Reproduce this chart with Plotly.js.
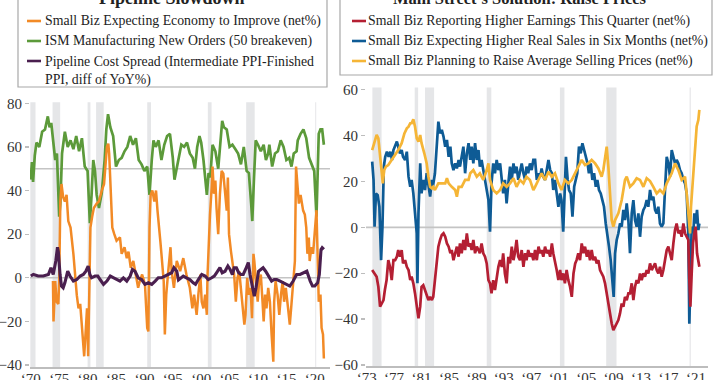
<!DOCTYPE html>
<html><head><meta charset="utf-8">
<script src="https://cdn.plot.ly/plotly-3.0.1.min.js"></script>
<style>html,body{margin:0;padding:0;background:#fff}#chart{width:720px;height:380px}</style>
</head><body><div id="chart"></div>
<script>
// ---------- text ----------
const leftTitle = "Pipeline Slowdown";
const rightTitle = "Main Street\u2019s Solution: Raise Prices";
const leftNames = ["Small Biz Expecting Economy to Improve (net%)",
                   "ISM Manufacturing New Orders (50 breakeven)",
                   "Pipeline Cost Spread (Intermediate PPI-Finished<br>PPI, diff of YoY%)"];
const rightNames = ["Small Biz Reporting Higher Earnings This Quarter (net%)",
                    "Small Biz Expecting Higher Real Sales in Six Months (net%)",
                    "Small Biz Planning to Raise Average Selling Prices (net%)"];
const leftTickYears = [1970,1975,1980,1985,1990,1995,2000,2005,2010,2015,2020];
const leftTickText = ["\u201870","\u201875","\u201880","\u201885","\u201890","\u201895","\u201800","\u201805","\u201810","\u201815","\u201820"];
const rightTickYears = [1973,1977,1981,1985,1989,1993,1997,2001,2005,2009,2013,2017,2021];
const rightTickText = ["\u201873","\u201877","\u201881","\u201885","\u201889","\u201893","\u201897","\u201801","\u201805","\u201809","\u201813","\u201817","\u201821"];
const leftYTicks = [-40,-20,0,20,40,60,80];
const rightYTicks = [-60,-40,-20,0,20,40,60];
const leftRefLines = [0,50];
const rightRefLines = [0];
// recessions (decimal years)
const recessions = [[1969.92,1970.83],[1973.83,1975.17],[1980.0,1980.5],[1981.5,1982.83],
                    [1990.5,1991.17],[2001.17,2001.83],[2007.92,2009.42],[2020.08,2020.25]];

// ---------- data: [decimal year, value] ----------
const ismNewOrders = [[1970.0,45],[1970.2,53],[1970.4,44],[1970.7,56],[1971.0,62],[1971.5,60],[1972.0,67],[1972.5,68],[1973.0,74],[1973.3,69],[1973.6,71],[1974.0,61],[1974.3,54],[1974.6,57],[1975.0,28],[1975.2,34],[1975.5,57],[1976.0,67],[1976.2,64],[1976.5,60],[1977.0,63],[1977.5,59],[1978.0,65],[1978.5,58],[1979.0,64],[1979.5,51],[1980.0,49],[1980.4,25],[1980.7,38],[1981.0,54],[1981.3,49],[1981.6,38],[1982.0,32],[1982.5,39],[1983.0,54],[1983.3,68],[1983.6,75],[1984.0,69],[1984.5,65],[1985.0,51],[1985.5,54],[1986.0,55],[1986.5,58],[1987.0,60],[1987.5,65],[1988.0,61],[1988.5,64],[1989.0,54],[1989.5,52],[1990.0,49],[1990.5,51],[1990.9,38],[1991.3,54],[1991.6,63],[1992.0,60],[1992.5,63],[1993.0,54],[1993.5,61],[1994.0,65],[1994.5,66],[1995.0,55],[1995.3,45],[1995.6,49],[1996.0,54],[1996.5,61],[1997.0,60],[1997.5,62],[1998.0,57],[1998.5,55],[1998.9,50],[1999.3,60],[1999.7,65],[2000.0,62],[2000.4,54],[2000.8,43],[2001.0,38],[2001.3,48],[2001.6,46],[2002.0,61],[2002.5,58],[2003.0,50],[2003.3,61],[2003.7,72],[2004.0,69],[2004.5,68],[2005.0,60],[2005.5,61],[2006.0,59],[2006.5,57],[2007.0,52],[2007.5,60],[2008.0,49],[2008.4,48],[2008.8,34],[2009.0,26],[2009.3,46],[2009.6,63],[2010.0,61],[2010.5,58],[2011.0,61],[2011.4,54],[2011.8,57],[2012.0,61],[2012.5,51],[2013.0,57],[2013.5,58],[2014.0,63],[2014.5,60],[2015.0,54],[2015.5,55],[2015.9,51],[2016.3,57],[2016.8,58],[2017.0,63],[2017.5,66],[2018.0,68],[2018.5,64],[2019.0,55],[2019.5,52],[2019.9,49],[2020.3,28],[2020.5,49],[2020.7,66],[2021.0,68],[2021.3,68],[2021.6,61]];

const econImprove = [[1973.9,-1.5],[1974.0,-20],[1974.3,-1.5],[1974.55,-11],[1974.85,-12],[1975.0,-1.5],[1975.2,35],[1975.4,43],[1975.7,37],[1976.0,35],[1976.3,38],[1976.6,26],[1977.0,23],[1977.5,11],[1978.1,-8],[1978.4,-14],[1978.7,-12],[1979.0,-23],[1979.25,-35],[1979.4,-36],[1979.7,-23],[1979.9,-14],[1980.1,-36],[1980.3,-1.5],[1980.5,23],[1980.8,28],[1981.1,32],[1981.6,34],[1982.0,35],[1982.5,40],[1982.9,43],[1983.4,60],[1983.65,61.5],[1983.8,57],[1984.1,38],[1984.35,23],[1984.7,20],[1985.1,17],[1985.7,18.5],[1986.0,11],[1986.5,14],[1986.9,9],[1987.2,12],[1987.6,4.6],[1988.05,7.7],[1988.5,0],[1988.9,-4.6],[1989.2,-1.5],[1989.6,1.5],[1990.1,-3],[1990.5,-23],[1990.7,-24.6],[1990.9,23],[1991.1,38],[1991.4,40],[1991.75,35],[1992.05,40],[1992.3,31],[1992.6,20],[1992.8,17],[1993.0,11],[1993.4,-1.5],[1993.6,-26],[1993.85,-7.7],[1994.2,3],[1994.6,14],[1994.8,3],[1995.2,-4.6],[1995.7,7.7],[1996.3,3],[1996.85,9],[1997.4,1.5],[1998.0,-4.6],[1998.45,-14],[1998.75,-7.7],[1999.2,-17],[1999.5,-7.7],[1999.85,1.5],[2000.1,-11],[2000.4,-14],[2000.7,-7.7],[2001.0,-17],[2001.1,0],[2001.3,14],[2001.55,29],[2001.85,41.5],[2002.0,51],[2002.25,38.5],[2002.5,44.6],[2002.7,32],[2003.0,20],[2003.3,38.5],[2003.6,49],[2003.9,47.7],[2004.2,37],[2004.5,30.8],[2004.7,46],[2004.9,20],[2005.25,12],[2005.5,7.7],[2005.8,1.5],[2006.1,-11],[2006.4,0],[2006.7,3],[2007.0,-4.6],[2007.3,-12],[2007.6,-21.5],[2007.8,-17],[2008.1,0],[2008.4,-7.7],[2008.7,-4.6],[2008.95,-18.5],[2009.2,11],[2009.35,7.7],[2009.65,-1.5],[2009.95,-11],[2010.2,-1.5],[2010.5,1.5],[2010.8,-11],[2011.0,-20],[2011.25,-7.7],[2011.5,-14],[2011.8,-4.6],[2012.1,-11],[2012.4,-26],[2012.7,-38.5],[2012.85,-11],[2013.1,-1.5],[2013.45,-7.7],[2013.75,-17],[2014.05,-7.7],[2014.35,-1.5],[2014.6,-11],[2014.9,-4.6],[2015.3,-14],[2015.6,-21.5],[2015.9,-12],[2016.2,-1.5],[2016.5,7.7],[2016.7,51],[2016.9,44.6],[2017.2,34],[2017.5,38],[2017.8,32],[2017.95,30.8],[2018.25,29],[2018.5,23],[2018.7,11],[2018.95,18.5],[2019.1,7.7],[2019.4,14],[2019.7,11],[2020.0,20],[2020.3,31],[2020.5,10],[2020.7,-11],[2021.0,-7.7],[2021.2,-23],[2021.45,-26],[2021.6,-37]];

const pipelineSpread = [[1970.0,0.8],[1970.45,1.5],[1971.3,0.8],[1972.2,0.8],[1973.1,1.5],[1973.55,4.6],[1973.95,1.5],[1974.4,7.7],[1974.7,14],[1974.85,12],[1975.15,1.5],[1975.4,-3.8],[1975.7,-4.6],[1976.0,-2.3],[1976.5,3],[1976.9,0.8],[1977.5,-1.5],[1978.1,-0.8],[1978.7,0.8],[1979.25,1.5],[1979.7,3],[1980.1,5.4],[1980.4,1.5],[1980.7,0],[1981.3,0.8],[1981.8,0.8],[1982.2,-0.8],[1982.8,-3],[1983.4,-1.5],[1984.0,0.8],[1984.6,0],[1985.1,-0.8],[1985.7,-1.5],[1986.3,0],[1986.9,-1.5],[1987.5,0.8],[1987.9,3.8],[1988.35,3],[1988.9,0],[1989.5,-0.8],[1990.1,-3],[1990.7,-2.3],[1991.3,-3],[1991.9,-1.5],[1992.45,0],[1993.0,0],[1993.6,0.8],[1994.2,1.5],[1994.8,2.3],[1995.2,4.6],[1995.7,3],[1996.0,-1],[1996.85,0.8],[1997.4,0],[1998.0,-0.8],[1998.6,-2.3],[1999.0,-3],[1999.5,-0.8],[2000.1,1.5],[2000.7,0.8],[2001.25,-0.8],[2001.85,0],[2002.3,0.8],[2002.7,2.3],[2003.3,4.6],[2003.7,2.3],[2004.2,3],[2004.7,5.4],[2005.1,3.8],[2005.5,1.5],[2005.8,4.6],[2006.2,4.6],[2006.6,2.3],[2007.0,1.5],[2007.4,1.5],[2007.8,3.8],[2008.3,7],[2008.6,1.5],[2009.0,-4.6],[2009.35,-8.5],[2009.65,-4.6],[2010.1,3],[2010.5,3.8],[2010.9,4.6],[2011.35,3],[2011.8,0.8],[2012.4,-1.5],[2012.85,-0.8],[2013.3,-0.8],[2013.9,-1.5],[2014.5,-2.3],[2015.0,-3],[2015.6,-3.8],[2016.2,-1.5],[2016.8,1.5],[2017.4,1.5],[2018.0,2.3],[2018.6,3],[2019.2,-1.5],[2019.6,-3.8],[2020.0,-3.8],[2020.5,-2.3],[2020.8,1.5],[2021.1,13],[2021.3,13.8],[2021.6,13]];

const higherEarnings = [[1973.8,-18.6],[1974.2,-20.1],[1974.45,-21.5],[1974.7,-25.9],[1974.95,-34.6],[1975.2,-33.2],[1975.45,-31.7],[1975.65,-27.3],[1975.9,-23],[1976.15,-14.3],[1976.4,-17.2],[1976.65,-23],[1976.9,-14.3],[1977.15,-14.3],[1977.4,-12.8],[1977.6,-9.9],[1977.85,-12.8],[1978.1,-9.9],[1978.3,-15.7],[1978.6,-14.3],[1978.85,-17.2],[1979.1,-18.6],[1979.35,-23],[1979.55,-21.5],[1979.8,-24.4],[1980.05,-28.8],[1980.3,-34.6],[1980.55,-39.7],[1980.8,-34.6],[1981.0,-25.9],[1981.25,-25.2],[1981.5,-27.3],[1981.75,-30.3],[1982.0,-31.7],[1982.25,-30.3],[1982.5,-31.7],[1982.7,-30.3],[1982.95,-23],[1983.2,-14.3],[1983.45,-8.4],[1983.7,-5.5],[1983.95,-3.3],[1984.2,-2.6],[1984.45,-4.1],[1984.7,-7],[1984.95,-8.4],[1985.2,-11.3],[1985.4,-9.9],[1985.65,-14.3],[1985.9,-11.3],[1986.15,-8.4],[1986.4,-12.8],[1986.6,-7],[1986.85,-11.3],[1987.1,-5.5],[1987.35,-9.9],[1987.6,-2.6],[1987.85,-8.4],[1988.1,-7],[1988.3,-9.9],[1988.55,-5.5],[1988.8,-11.3],[1989.05,-8.4],[1989.3,-9.9],[1989.5,-11.3],[1989.75,-7],[1990.0,-11.3],[1990.25,-12.8],[1990.5,-15.7],[1990.75,-23],[1990.98,-24.4],[1991.2,-28.8],[1991.45,-23],[1991.7,-27.3],[1991.95,-21.5],[1992.2,-17.2],[1992.45,-14.3],[1992.7,-17.2],[1992.9,-11.3],[1993.15,-20.1],[1993.4,-24.4],[1993.65,-12.8],[1993.9,-15.7],[1994.15,-8.4],[1994.4,-14.3],[1994.6,-11.3],[1994.85,-5.5],[1995.1,-12.8],[1995.35,-14.3],[1995.6,-9.9],[1995.85,-17.2],[1996.1,-11.3],[1996.3,-14.3],[1996.55,-9.9],[1996.8,-12.8],[1997.05,-11.3],[1997.3,-14.3],[1997.55,-9.9],[1997.8,-14.3],[1998.05,-8.4],[1998.3,-11.3],[1998.5,-9.9],[1998.75,-12.8],[1999.0,-8.4],[1999.25,-11.3],[1999.5,-9.9],[1999.75,-12.8],[2000.0,-7],[2000.2,-11.3],[2000.45,-14.3],[2000.7,-18.6],[2000.95,-23],[2001.2,-18.6],[2001.4,-23],[2001.65,-20.1],[2001.9,-24.4],[2002.15,-18.6],[2002.4,-23],[2002.65,-25.9],[2002.9,-30.3],[2003.15,-20.1],[2003.4,-15.7],[2003.6,-14.3],[2003.85,-11.3],[2004.1,-14.3],[2004.35,-7],[2004.6,-11.3],[2004.83,-8.4],[2005.1,-12.8],[2005.3,-9.9],[2005.56,-14.3],[2005.8,-9.9],[2006.05,-14.3],[2006.3,-12.8],[2006.53,-15.7],[2006.78,-14.3],[2007.02,-18.6],[2007.26,-20.1],[2007.5,-21.5],[2007.75,-24.4],[2007.99,-28.8],[2008.23,-34.6],[2008.48,-37.5],[2008.72,-41.9],[2008.96,-44.8],[2009.21,-43.3],[2009.45,-41.9],[2009.69,-40.4],[2009.93,-37.5],[2010.18,-33.2],[2010.42,-34.6],[2010.66,-30.3],[2010.91,-31.7],[2011.15,-28.8],[2011.39,-28.8],[2011.64,-24.4],[2011.88,-31.7],[2012.12,-25.9],[2012.36,-23],[2012.61,-24.4],[2012.85,-20.1],[2013.09,-23],[2013.34,-20.1],[2013.58,-21.5],[2013.82,-18.6],[2014.06,-20.1],[2014.31,-15.7],[2014.55,-18.6],[2014.79,-17.2],[2015.04,-15.7],[2015.28,-18.6],[2015.52,-20.1],[2015.76,-17.2],[2016.01,-21.5],[2016.25,-18.6],[2016.49,-14.3],[2016.74,-9.9],[2016.98,-8.4],[2017.22,-11.3],[2017.47,-14.3],[2017.71,-7],[2017.95,-1.2],[2018.19,1.7],[2018.44,-2.6],[2018.68,-1.2],[2018.92,-4.1],[2019.17,1.7],[2019.41,-2.6],[2019.65,-4.1],[2019.89,-5.5],[2020.04,-23],[2020.19,-34.6],[2020.38,-20.1],[2020.58,-6.9],[2020.77,-2.6],[2020.96,0.3],[2021.16,-11.3],[2021.35,-14.3],[2021.5,-17.2]];

const higherSales = [[1973.8,28.7],[1974.0,20.7],[1974.15,0.3],[1974.35,14.8],[1974.6,14.1],[1974.85,9],[1975.1,-14.3],[1975.3,0.3],[1975.5,26.5],[1975.7,30.8],[1975.95,33],[1976.2,30.8],[1976.45,33],[1976.7,29.4],[1976.9,33.7],[1977.4,37.4],[1977.6,35.2],[1977.85,32.3],[1978.1,33.7],[1978.3,30.8],[1978.6,29.4],[1978.85,33],[1979.1,22.1],[1979.35,17.7],[1979.55,20.7],[1979.8,14.8],[1980.05,6.1],[1980.3,-2.6],[1980.4,-24.4],[1980.55,6.1],[1980.8,27.9],[1981.0,14.8],[1981.25,20.7],[1981.5,16.3],[1981.75,23.6],[1982.0,17.7],[1982.25,13.4],[1982.5,20.7],[1982.65,17.7],[1982.95,23.6],[1983.2,35.2],[1983.45,46.1],[1983.7,41],[1983.95,42.5],[1984.2,39.6],[1984.45,35.2],[1984.7,38.1],[1984.95,30.8],[1985.2,35.2],[1985.4,27.9],[1985.65,25],[1985.9,27.9],[1986.15,25.7],[1986.4,29.4],[1986.6,26.5],[1986.85,30.8],[1987.1,35.2],[1987.35,23.6],[1987.6,32.3],[1987.85,36.7],[1988.1,29.4],[1988.3,35.2],[1988.55,27.9],[1988.8,36.7],[1989.05,29.4],[1989.3,33.7],[1989.5,26.5],[1989.75,29.4],[1990.0,25],[1990.25,20.7],[1990.5,16.3],[1990.75,11.9],[1990.98,-1.9],[1991.2,19.2],[1991.45,27.9],[1991.7,23.6],[1991.95,29.4],[1992.2,25],[1992.45,27.9],[1992.7,20.7],[1992.9,14.8],[1993.15,20.7],[1993.4,10.5],[1993.65,19.2],[1993.9,26.5],[1994.15,20.7],[1994.4,27.9],[1994.6,23.6],[1994.85,26.5],[1995.1,20.7],[1995.35,25],[1995.6,27.9],[1995.85,23.6],[1996.1,20.7],[1996.3,26.5],[1996.55,23.6],[1996.8,27.9],[1997.05,25],[1997.3,29.4],[1997.55,29.4],[1997.8,20.7],[1998.05,23.6],[1998.3,22.1],[1998.5,25.7],[1998.75,22.1],[1999.0,20.7],[1999.25,25],[1999.5,29.4],[1999.75,25],[2000.0,23.6],[2000.2,16.3],[2000.45,20.7],[2000.7,14.8],[2000.95,9],[2001.2,14.8],[2001.4,11.9],[2001.65,-1.9],[2001.8,13.4],[2002.05,30.8],[2002.3,20.7],[2002.5,16.3],[2002.75,14.8],[2003.0,4.7],[2003.25,17.7],[2003.5,20.7],[2003.7,23.6],[2003.95,35.2],[2004.2,32.3],[2004.45,36.7],[2004.7,33.7],[2004.93,30.8],[2005.2,27.9],[2005.4,23.6],[2005.66,27.9],[2005.9,20.7],[2006.15,23.6],[2006.4,17.7],[2006.63,20.7],[2006.87,16.3],[2007.12,14.8],[2007.36,11.9],[2007.6,9],[2007.85,1.7],[2008.09,-2.6],[2008.33,-8.4],[2008.57,-14.3],[2008.82,-23],[2009.01,-30.3],[2009.21,-11.3],[2009.45,-5.5],[2009.69,-2.6],[2009.93,1.7],[2010.18,0.3],[2010.42,7.6],[2010.66,3.2],[2010.91,10.5],[2011.15,3.2],[2011.39,-11.3],[2011.64,6.1],[2011.88,11.9],[2012.12,3.2],[2012.36,0.3],[2012.61,6.1],[2012.85,-4.1],[2013.09,4.7],[2013.34,7.6],[2013.58,9],[2013.82,11.9],[2014.06,9],[2014.31,16.3],[2014.55,11.9],[2014.79,13.4],[2015.04,7.6],[2015.28,6.1],[2015.52,9],[2015.76,1.7],[2016.01,0.3],[2016.25,1.7],[2016.49,16.3],[2016.74,30.8],[2016.98,27.9],[2017.22,22.1],[2017.47,33.7],[2017.71,30.8],[2017.95,27.9],[2018.19,29.4],[2018.44,27.9],[2018.68,25],[2018.92,23.6],[2019.17,20.7],[2019.41,19.2],[2019.65,14.8],[2019.89,-2.6],[2020.04,-42],[2020.19,-17.2],[2020.38,0.3],[2020.62,-2.6],[2020.77,6.1],[2020.96,1.7],[2021.16,7.6],[2021.35,-1.2],[2021.5,1.7]];

const raisePrices = [[1973.8,33.7],[1974.2,38.1],[1974.45,40.3],[1974.7,38.8],[1974.95,32.3],[1975.2,23.6],[1975.35,19.2],[1975.55,25],[1975.8,26.5],[1976.15,27.2],[1976.65,29.4],[1977.15,31.6],[1977.6,33.7],[1978.1,36.7],[1978.5,41],[1978.85,43.2],[1979.1,43.9],[1979.35,45.4],[1979.55,45.4],[1979.8,47.1],[1980.05,43.9],[1980.3,38.8],[1980.55,37.4],[1980.8,40.3],[1981.0,36.7],[1981.4,32.3],[1981.75,27.9],[1982.0,22.1],[1982.25,17.7],[1982.5,17],[1982.7,17.7],[1982.95,16.3],[1983.2,17.7],[1983.45,19.2],[1983.95,19.2],[1984.45,19.2],[1984.7,21.4],[1984.95,19.2],[1985.4,17.7],[1985.9,16.3],[1986.15,13.4],[1986.4,17.7],[1986.85,17.7],[1987.35,20.7],[1987.85,20.7],[1988.1,23.6],[1988.55,25],[1989.05,22.1],[1989.5,23.6],[1990.0,20.7],[1990.5,25],[1990.75,27.9],[1990.98,20.7],[1991.45,16.3],[1991.95,14.8],[1992.45,16.3],[1992.9,19.2],[1993.4,17.7],[1993.9,19.2],[1994.4,21.4],[1994.85,17.7],[1995.35,20.7],[1995.85,19.2],[1996.3,22.1],[1996.8,20.7],[1997.3,16.3],[1997.55,17.7],[1998.05,20.7],[1998.5,23.6],[1999.0,20.7],[1999.5,24.3],[2000.0,22.1],[2000.45,23.6],[2000.95,19.2],[2001.4,16.3],[2001.9,20.7],[2002.4,19.2],[2002.9,20.7],[2003.4,23.6],[2003.85,26.5],[2004.35,29.4],[2004.83,27.2],[2005.3,27.9],[2005.8,29.4],[2006.3,27.9],[2006.78,25.7],[2007.26,22.1],[2007.5,25],[2007.75,29.4],[2007.99,35.2],[2008.23,26.5],[2008.48,11.9],[2008.72,3.2],[2008.96,0.3],[2009.21,3.2],[2009.69,6.1],[2009.93,9],[2010.18,11.9],[2010.42,16.3],[2010.66,20.7],[2010.91,22.1],[2011.39,17.7],[2011.88,19.2],[2012.36,21.4],[2012.85,20.7],[2013.34,17.7],[2013.82,21.4],[2014.31,20.2],[2014.79,17.7],[2015.28,14.8],[2015.76,16.3],[2016.25,14.8],[2016.74,19.2],[2016.98,20.7],[2017.47,23.6],[2017.95,27.9],[2018.44,25],[2018.92,20.7],[2019.41,22.1],[2019.65,14.8],[2019.99,3.2],[2020.14,-2.6],[2020.28,9],[2020.48,17.7],[2020.67,27.9],[2020.87,35.2],[2021.11,44],[2021.35,46.8],[2021.5,51.2]];

// ---------- styling ----------
const W = 720, H = 380;
const FONT = '"Liberation Serif", "Times New Roman", serif';
const colors = {orange:'#f28a26', green:'#5c9a3a', purple:'#4a1f4f', red:'#b41f33', blue:'#0e5b95', yellow:'#f5b536'};
const px = x => x / W;            // pixel -> paper x
const py = y => 1 - y / H;        // pixel -> paper y

function line(pairs, xa, ya, color, width, name) {
  return {type:'scatter', mode:'lines', x:pairs.map(p=>p[0]), y:pairs.map(p=>p[1]),
          xaxis:xa, yaxis:ya, name:name, showlegend:false, hoverinfo:'skip',
          line:{color:color, width:width}};
}
const traces = [
  line(ismNewOrders,'x','y',colors.green,2.7,leftNames[1]),
  line(econImprove,'x','y',colors.orange,2.5,leftNames[0]),
  line(pipelineSpread,'x','y',colors.purple,3.1,leftNames[2]),
  line(higherSales,'x2','y2',colors.blue,2.7,rightNames[1]),
  line(higherEarnings,'x2','y2',colors.red,2.7,rightNames[0]),
  line(raisePrices,'x2','y2',colors.yellow,2.7,rightNames[2])
];

const shapes = [];
recessions.forEach(r => {
  shapes.push({type:'rect', xref:'x', yref:'y domain', x0:r[0], x1:r[1], y0:0, y1:1,
               fillcolor:'#e5e6e8', line:{width:0}, layer:'below'});
  shapes.push({type:'rect', xref:'x2', yref:'y2 domain', x0:r[0], x1:r[1], y0:0, y1:1,
               fillcolor:'#e5e6e8', line:{width:0}, layer:'below'});
});
leftRefLines.forEach(v => shapes.push({type:'line', xref:'x domain', yref:'y', x0:0, x1:1, y0:v, y1:v,
               line:{color:'#c4c4c4', width:1.6}, layer:'below'}));
rightRefLines.forEach(v => shapes.push({type:'line', xref:'x2 domain', yref:'y2', x0:0, x1:1, y0:v, y1:v,
               line:{color:'#c4c4c4', width:1.6}, layer:'below'}));

// legend boxes (drawn manually to match the short key lines)
shapes.push({type:'rect', xref:'paper', yref:'paper', x0:px(18), x1:px(327), y0:py(87), y1:py(-30),
             line:{color:'#a8a8a8', width:1.2}, fillcolor:'rgba(0,0,0,0)'});
shapes.push({type:'rect', xref:'paper', yref:'paper', x0:px(340), x1:px(712), y0:py(75), y1:py(-30),
             line:{color:'#a8a8a8', width:1.2}, fillcolor:'rgba(0,0,0,0)'});
const leftKeyColors = [colors.orange, colors.green, colors.purple];
const rightKeyColors = [colors.red, colors.blue, colors.yellow];
const annotations = [];
const txt = (text, x, y, size, bold, anchor, yanchor) => ({xref:'paper', yref:'paper', x:px(x), y:py(y),
   xanchor:anchor||'left', yanchor:yanchor||'middle', showarrow:false, text: bold ? '<b>'+text+'</b>' : text,
   font:{family:FONT, size:size, color:'#222'}, align:'left'});
annotations.push(txt(leftTitle, 172, -2, 18, true, 'center'));
annotations.push(txt(rightTitle, 520, -1.5, 16.5, true, 'center'));
const LF = 13.8;
[21, 41, 61].forEach((yy, i) => {
  shapes.push({type:'line', xref:'paper', yref:'paper', x0:px(27), x1:px(41), y0:py(yy), y1:py(yy),
               line:{color:leftKeyColors[i], width:2.6}});
  shapes.push({type:'line', xref:'paper', yref:'paper', x0:px(352), x1:px(366), y0:py(yy), y1:py(yy),
               line:{color:rightKeyColors[i], width:2.6}});
  annotations.push(txt(rightNames[i], 366, yy, LF, false));
});
annotations.push(txt(leftNames[0], 43, 21, LF, false));
annotations.push(txt(leftNames[1], 43, 41, LF, false));
annotations.push(txt(leftNames[2], 43, 51.5, LF, false, 'left', 'top'));

const tickFont = {family:FONT, size:15, color:'#333'};
const xAxisBase = {showgrid:false, zeroline:false, showline:true, linecolor:'#bdbdbd', linewidth:1.5,
                   ticks:'', tickfont:tickFont, ticklabelstandoff:-3};
const yAxisBase = {showgrid:false, zeroline:false, showline:false, ticks:'outside', ticklen:4,
                   tickcolor:'#bdbdbd', tickwidth:1.2, tickfont:tickFont};
const layout = {
  width:W, height:H, margin:{l:0, r:0, t:0, b:0, autoexpand:false},
  paper_bgcolor:'#fff', plot_bgcolor:'rgba(0,0,0,0)', showlegend:false,
  xaxis:Object.assign({domain:[px(30), px(330)], range:[1969.86, 2022.68], tickvals:leftTickYears,
         ticktext:leftTickText, anchor:'y'}, xAxisBase),
  yaxis:Object.assign({domain:[1-367.2/H, 1-102.2/H], range:[-41, 80.5], tickvals:leftYTicks, anchor:'x'}, yAxisBase),
  xaxis2:Object.assign({domain:[px(366), px(708)], range:[1972.9, 2022.76], tickvals:rightTickYears,
         ticktext:rightTickText, anchor:'y2'}, xAxisBase),
  yaxis2:Object.assign({domain:[1-366.1/H, 1-87.5/H], range:[-60.5, 61], tickvals:rightYTicks, anchor:'x2'}, yAxisBase),
  shapes:shapes, annotations:annotations
};
Plotly.newPlot('chart', traces, layout, {staticPlot:true, displayModeBar:false});
</script>
</body></html>
